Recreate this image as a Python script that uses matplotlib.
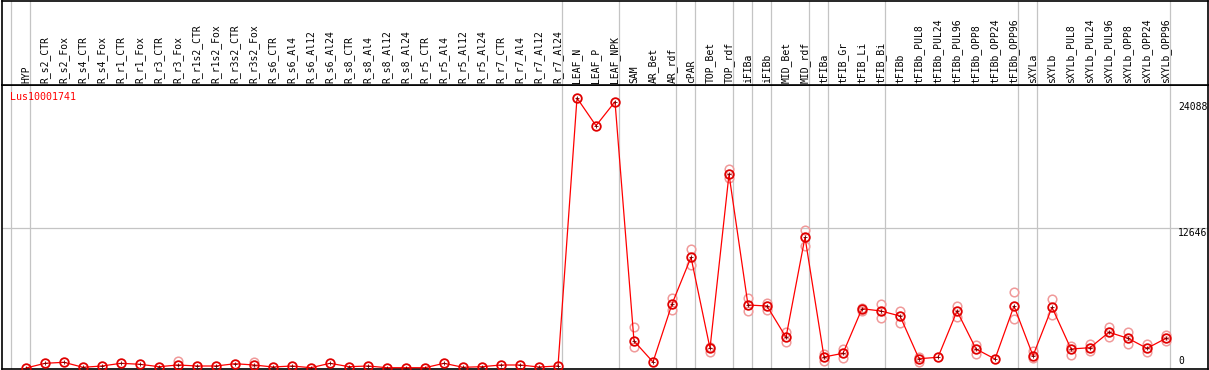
import matplotlib
matplotlib.use("Agg")

import numpy as np
import matplotlib.pyplot as plt
import matplotlib.transforms as mtransforms

W, H = 1209, 370

samples = [
    "HYP",
    "R_s2_CTR", "R_s2_Fox", "R_s4_CTR", "R_s4_Fox",
    "R_r1_CTR", "R_r1_Fox", "R_r3_CTR", "R_r3_Fox",
    "R_r1s2_CTR", "R_r1s2_Fox", "R_r3s2_CTR", "R_r3s2_Fox",
    "R_s6_CTR", "R_s6_Al4", "R_s6_Al12", "R_s6_Al24",
    "R_s8_CTR", "R_s8_Al4", "R_s8_Al12", "R_s8_Al24",
    "R_r5_CTR", "R_r5_Al4", "R_r5_Al12", "R_r5_Al24",
    "R_r7_CTR", "R_r7_Al4", "R_r7_Al12", "R_r7_Al24",
    "LEAF_N", "LEAF_P", "LEAF_NPK",
    "SAM", "AR_Bet", "AR_rdf", "cPAR", "TOP_Bet", "TOP_rdf",
    "iFIBa", "iFIBb", "MID_Bet", "MID_rdf",
    "tFIBa", "tFIB_Gr", "tFIB_Li", "tFIB_Bi",
    "tFIBb", "tFIBb_PUL8", "tFIBb_PUL24", "tFIBb_PUL96",
    "tFIBb_OPP8", "tFIBb_OPP24", "tFIBb_OPP96",
    "sXYLa", "sXYLb", "sXYLb_PUL8", "sXYLb_PUL24", "sXYLb_PUL96",
    "sXYLb_OPP8", "sXYLb_OPP24", "sXYLb_OPP96",
]

# mean expression per sample
means = [
    0,
    425, 516, 63, 181,
    425, 335, 118, 272,
    181, 181, 389, 272,
    90, 181, 27, 425,
    118, 181, 27, 27,
    27, 425, 63, 118,
    272, 272, 90, 181,
    24441, 21934, 24106,
    2444, 543, 5793, 10021, 1783, 17534,
    5703, 5612, 2779, 11831,
    996, 1331, 5368, 5160,
    4707, 842, 969, 5160,
    1720, 815, 5612,
    1113, 5495, 1720, 1838, 3232,
    2689, 1783, 2689,
]

# replicate values (nan = not visible)
nan = np.nan
rep_hi = [
    nan,
    nan, nan, nan, nan,
    nan, nan, nan, 634,
    nan, nan, nan, 516,
    nan, nan, nan, nan,
    nan, nan, nan, nan,
    nan, nan, nan, nan,
    nan, nan, nan, nan,
    nan, nan, nan,
    3684, nan, 6364, 10772, 1928, 17987,
    6309, 5911, 3286, 12492,
    1267, 1693, 5459, 5793,
    5187, 1023, nan, 5612,
    2082, nan, 6853,
    1566, 6219, 1992, 2145, 3684,
    3286, 2173, 2987,
]
rep_lo = [
    nan,
    nan, nan, nan, nan,
    nan, nan, nan, nan,
    nan, nan, nan, nan,
    nan, nan, nan, nan,
    nan, nan, nan, nan,
    nan, nan, nan, nan,
    nan, nan, nan, nan,
    nan, nan, nan,
    1856, nan, 5250, 9324, 1476, 17172,
    5160, 5250, 2326, 11044,
    661, 878, 5187, 4499,
    4101, 570, nan, 4644,
    1267, nan, 4408,
    878, 4798, 1177, 1566, 2779,
    2145, 1476, 2444,
]

# sample index after which a separator line is drawn
group_ends = [-1, 0, 28, 31, 34, 35, 37, 38, 39, 41, 42, 45, 52, 53, 60]
y_labels = [24088, 12646, 0]
gene = "Lus10001741"

# pixel layout
x0_px, step_px = 26, 19
top_px, sep_px, bot_px = 0.5, 85, 368.5
left_px, right_px = 1.5, 1208
px_per_unit = 0.011047

fig = plt.figure(figsize=(W / 100, H / 100), dpi=100)
xlim = ((left_px - x0_px) / step_px, (right_px - x0_px) / step_px)

ax = fig.add_axes([left_px / W, (H - bot_px) / H,
                   (right_px - left_px) / W, (bot_px - sep_px) / H])
axh = fig.add_axes([left_px / W, (H - sep_px) / H,
                    (right_px - left_px) / W, (sep_px - top_px) / H])

ymin = -(bot_px - 368) / px_per_unit
ymax = (368 - sep_px) / px_per_unit

for a in (ax, axh):
    a.set_xlim(*xlim)
    a.set_xticks([])
    a.set_yticks([])
    for sp in a.spines.values():
        sp.set_color("black")
        sp.set_linewidth(1.2)
    for g in group_ends:
        a.axvline(g + 4 / step_px, color="#c4c4c4", lw=0.9, zorder=0)
axh.set_ylim(0, 1)
ax.set_ylim(ymin, ymax)

x = np.arange(len(samples))
ax.axhline(12646, color="#c4c4c4", lw=0.9, zorder=0)

ax.plot(x, rep_hi, ls="none", marker="o", ms=6.2, mfc="none",
        mec="#f09a9a", mew=1.1, zorder=2, clip_on=True)
ax.plot(x, rep_lo, ls="none", marker="o", ms=6.2, mfc="none",
        mec="#f09a9a", mew=1.1, zorder=2, clip_on=True)
ax.plot(x, means, color="#ff0000", lw=0.9, zorder=3)
ax.plot(x, means, ls="none", marker="o", ms=6.2, mfc="none",
        mec="#e00000", mew=1.3, zorder=4)
ax.plot(x, means, ls="none", marker="+", ms=3.5, color="#700000",
        mew=0.6, zorder=5)

mono = "DejaVu Sans Mono"
for i, name in enumerate(samples):
    axh.text(i, (sep_px - 83) / (sep_px - top_px), name, rotation=90,
             ha="center", va="bottom", fontsize=7, family=mono)

ax.text((10 - x0_px) / step_px, ymax - (97 - sep_px) / px_per_unit, gene,
        color="#ff0000", fontsize=7.2, family=mono, va="center", ha="left")

xl = (1178 - x0_px) / step_px
ax.text(xl, 24088, "24088", fontsize=7, family=mono, va="top", ha="left")
ax.text(xl, 12646, "12646", fontsize=7, family=mono, va="top", ha="left")
ax.text(xl, 0 + 2 / px_per_unit, "0", fontsize=7, family=mono,
        va="bottom", ha="left")

fig.savefig("out.png", dpi=100)
